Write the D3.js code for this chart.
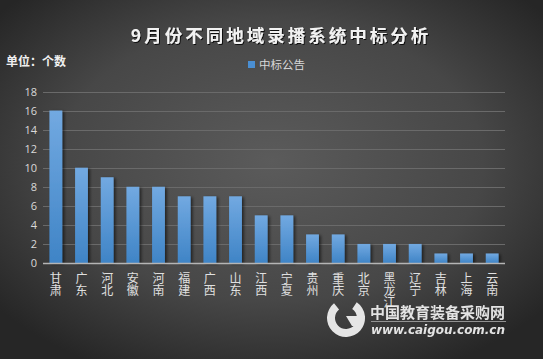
<!DOCTYPE html>
<html><head><meta charset="utf-8">
<script src="https://cdn.jsdelivr.net/npm/d3@7/dist/d3.min.js"></script>
<style>html,body{margin:0;padding:0;background:#333;}svg{display:block;}</style>
</head><body><svg id="c" width="543" height="359"></svg>
<script>
const categories = ["甘肃","广东","河北","安徽","河南","福建","广西","山东","江西","宁夏","贵州","重庆","北京","黑龙江","辽宁","吉林","上海","云南"];
const values = [16,10,9,8,8,7,7,7,5,5,3,3,2,2,2,1,1,1];
const yTicks = [0,2,4,6,8,10,12,14,16,18];
const seriesName = "中标公告";
const titleText = "9月份不同地域录播系统中标分析";
const unitText = "单位：个数";

const W = 543, H = 359;
const svg = d3.select("#c");
const font = "'Noto Sans CJK SC','Noto Sans',sans-serif";
const defs = svg.append("defs");
const bg = defs.append("radialGradient").attr("id","bg").attr("cx","50%").attr("cy","45%").attr("r","65%");
bg.append("stop").attr("offset","0%").attr("stop-color","#5b5b5b");
bg.append("stop").attr("offset","60%").attr("stop-color","#474747");
bg.append("stop").attr("offset","100%").attr("stop-color","#262626");
const bgr = defs.append("linearGradient").attr("id","bar").attr("x1",0).attr("y1",0).attr("x2",0).attr("y2",1);
bgr.append("stop").attr("offset","0%").attr("stop-color","#72a9e1");
bgr.append("stop").attr("offset","100%").attr("stop-color","#3f84c6");
const sh = defs.append("filter").attr("id","sh").attr("x","-30%").attr("y","-10%").attr("width","170%").attr("height","130%");
sh.append("feDropShadow").attr("dx",2).attr("dy",1).attr("stdDeviation",1.5).attr("flood-color","#000").attr("flood-opacity",0.55);
const tsh = defs.append("filter").attr("id","tsh");
tsh.append("feDropShadow").attr("dx",1).attr("dy",1).attr("stdDeviation",0.6).attr("flood-color","#000").attr("flood-opacity",0.8);

svg.append("rect").attr("width",W).attr("height",H).attr("fill","url(#bg)");

const x = d3.scaleBand().domain(categories).range([43,505]).paddingInner(0.5).paddingOuter(0.25);
const y = d3.scaleLinear().domain([0,18]).range([263,91.5]);

// gridlines
svg.append("g").selectAll("line").data(yTicks.filter(d=>d>0)).join("line")
  .attr("x1",43).attr("x2",505).attr("y1",d=>Math.round(y(d))+0.5).attr("y2",d=>Math.round(y(d))+0.5)
  .attr("stroke","#6a6a6a").attr("stroke-width",1);

// y axis
const ya = svg.append("g").attr("transform","translate(40,0)")
  .call(d3.axisLeft(y).tickValues(yTicks).tickSize(0).tickPadding(3));
ya.select(".domain").remove();
ya.selectAll("text").attr("fill","#d9d9d9").attr("font-size","11px").attr("font-family","'Open Sans','DejaVu Sans',sans-serif");

// bars
svg.append("g").selectAll("rect").data(values).join("rect")
  .attr("x",(d,i)=>x(categories[i])).attr("width",x.bandwidth())
  .attr("y",d=>y(d)).attr("height",d=>y(0)-y(d))
  .attr("fill","url(#bar)").attr("filter","url(#sh)");

// x axis baseline
svg.append("line").attr("x1",43).attr("x2",505).attr("y1",263.5).attr("y2",263.5).attr("stroke","#b5b5b5").attr("stroke-width",1.3);

// x labels vertical (one column per label)
svg.append("g").selectAll("text").data(categories).join("text")
  .attr("x",d=>x(d)+x.bandwidth()/2).attr("y",272)
  .style("writing-mode","vertical-rl").style("text-orientation","upright")
  .attr("letter-spacing","0.4px")
  .attr("fill","#e0e0e0").attr("font-size","12px").attr("font-family",font)
  .text(d=>d);

// title
svg.append("text").attr("x",281).attr("y",42).attr("text-anchor","middle")
  .attr("fill","#f2f2f2").attr("font-size","17.5px").attr("font-weight","bold").attr("letter-spacing","3px")
  .attr("font-family","'Noto Sans CJK SC',sans-serif").attr("filter","url(#tsh)").text(titleText);

// unit
svg.append("text").attr("x",6).attr("y",66).attr("fill","#f0f0f0").attr("font-size","12px").attr("font-weight","bold")
  .attr("font-family",font).text(unitText);

// legend
svg.append("rect").attr("x",248).attr("y",61).attr("width",7).attr("height",7).attr("fill","#4a8fd3");
svg.append("text").attr("x",259).attr("y",69).attr("fill","#d9d9d9").attr("font-size","11.5px")
  .attr("font-family",font).text(seriesName);

// watermark
const wm = svg.append("g").attr("opacity",0.92);
wm.append("path").attr("d",d3.arc()({innerRadius:11,outerRadius:19,startAngle:0.6,endAngle:5.6}))
  .attr("transform","translate(346,318)").attr("fill","#f4f4f4");
wm.append("path").attr("d","M346,316 L365,316 L363,326 L352,326 Z").attr("fill","#f4f4f4");
wm.append("text").attr("x",370).attr("y",318).attr("fill","#f2f2f2").attr("font-size","15px").attr("font-weight","bold")
  .attr("font-family",font).attr("textLength",135).text("中国教育装备采购网");
wm.append("line").attr("x1",371).attr("x2",506).attr("y1",321.5).attr("y2",321.5).attr("stroke","#9a9a9a");
wm.append("text").attr("x",371).attr("y",334).attr("fill","#f2f2f2").attr("font-size","12px").attr("font-style","italic").attr("font-weight","bold")
  .attr("font-family","'DejaVu Sans',sans-serif").attr("textLength",134).text("www.caigou.com.cn");
</script></body></html>
